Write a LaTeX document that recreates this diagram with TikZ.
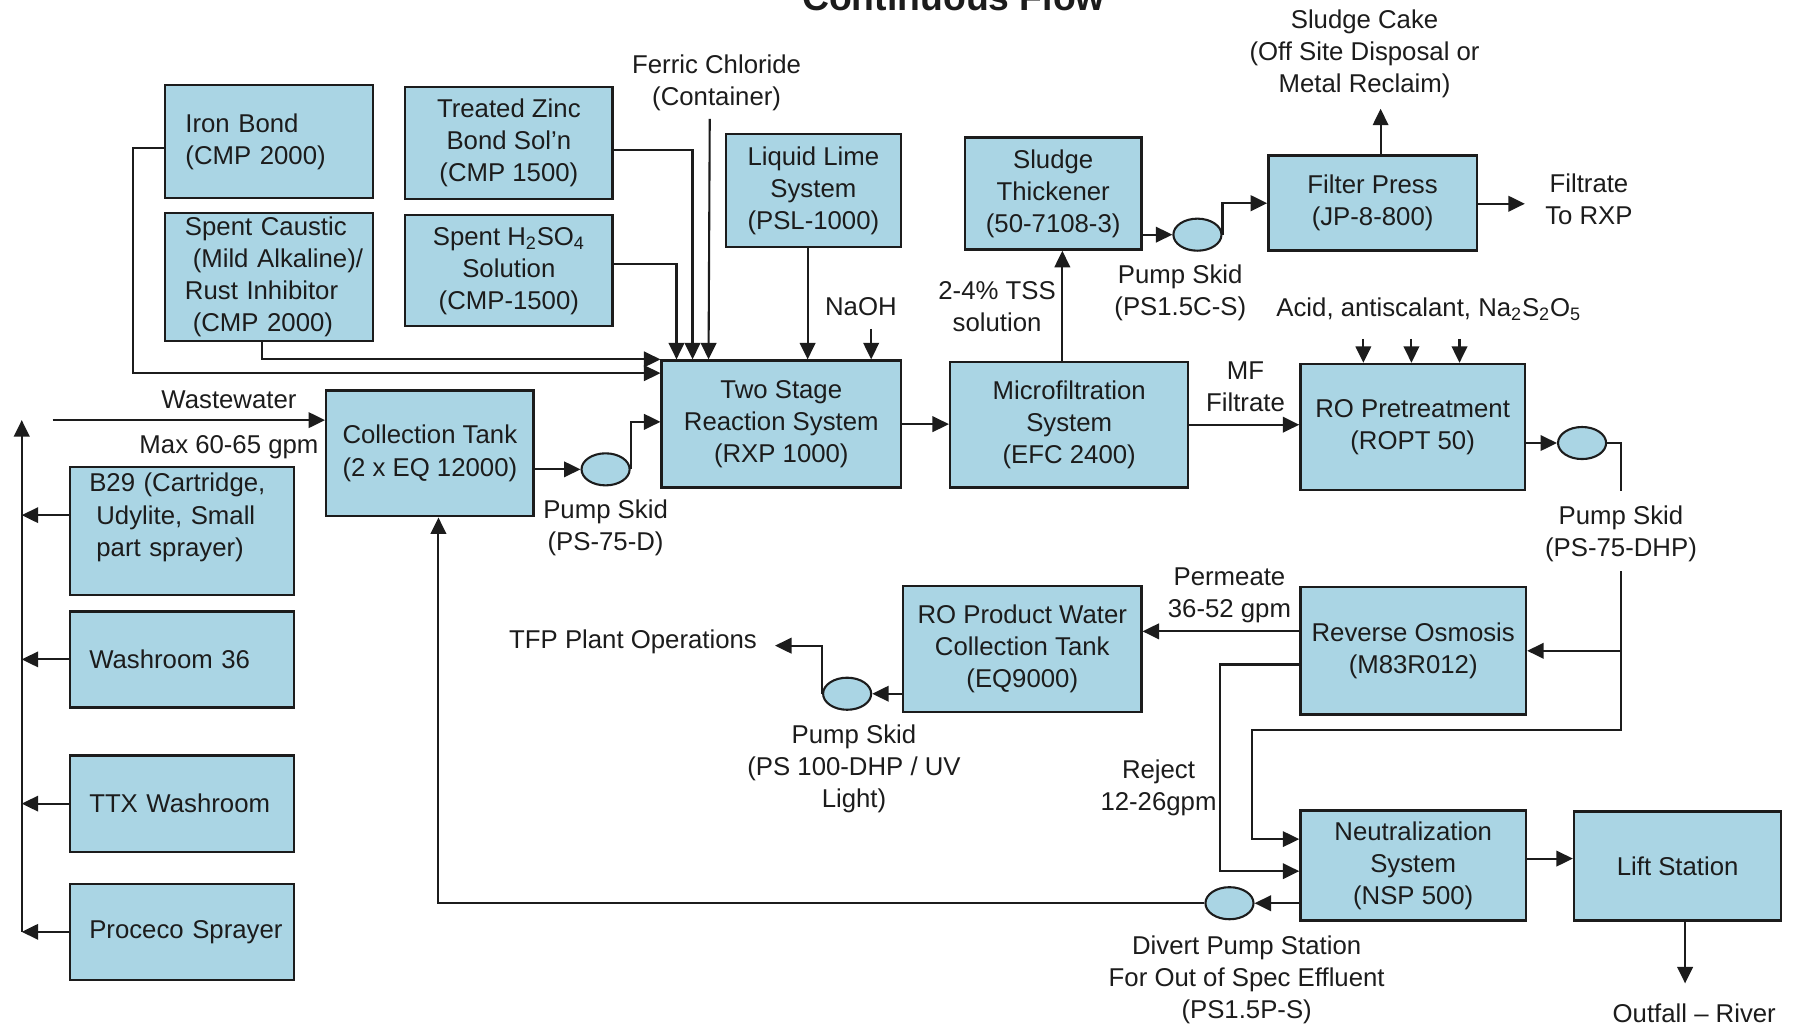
\documentclass[tikz,border=0pt]{standalone}
\usepackage{fontspec}
\setmainfont{Liberation Sans}
\usetikzlibrary{arrows.meta,calc,shapes.geometric}
\definecolor{boxfill}{RGB}{170,213,228}
\definecolor{ink}{RGB}{28,28,28}
\newcommand\mybox[6]{\node[box, minimum width={(#4-#2)*0.025cm}, minimum height={(#5-#3)*0.025cm}] (#1) at ({(#2+#4)/2},{(#3+#5)/2}) {#6};}
\newcommand\myboxl[7]{\node[box, align=left, text width=#6, minimum width={(#4-#2)*0.025cm}, minimum height={(#5-#3)*0.025cm}] (#1) at ({(#2+#4)/2},{(#3+#5)/2}) {#7};}
\begin{document}
\begin{tikzpicture}[x=0.025cm,y=-0.025cm,
  every node/.style={font=\fontsize{16}{19.9}\selectfont, text=ink},
  box/.style={draw=ink, fill=boxfill, line width=1.5pt, inner sep=0pt, align=center},
  pump/.style={ellipse, draw=ink, fill=boxfill, line width=1.3pt, minimum width=1.05cm, minimum height=0.7cm, inner sep=0pt},
  lbl/.style={align=center, inner sep=0pt},
  conn/.style={draw=ink, line width=1.3pt},
  flow/.style={conn, -{Triangle[length=0.36cm,width=0.34cm]}},
]
\fill[white] (0,0) rectangle (1568,899);
\useasboundingbox (0,0) rectangle (1568,899);

% title
\node[lbl, anchor=base, font=\fontsize{23.2}{28}\selectfont\bfseries] (title) at (833,9) {Continuous Flow};

% boxes
\myboxl{iron}{144}{74}{326}{173}{4.55cm}{\hspace*{0.45cm}Iron Bond\\\hspace*{0.45cm}(CMP 2000)}
\mybox{zinc}{354}{76}{535}{174}{Treated Zinc\\Bond Sol’n\\(CMP 1500)}
\myboxl{caustic}{144}{186}{326}{298}{4.55cm}{\hspace*{0.44cm}Spent Caustic\\\hspace*{0.61cm}(Mild Alkaline)/\\\hspace*{0.44cm}Rust Inhibitor\\\hspace*{0.61cm}(CMP 2000)}
\mybox{h2so4}{354}{188}{535}{285}{Spent H\textsubscript{2}SO\textsubscript{4}\\Solution\\(CMP-1500)}
\mybox{lime}{634}{117}{787}{216}{Liquid Lime\\System\\(PSL-1000)}
\mybox{rxp}{578}{315}{787}{426}{Two Stage\\Reaction System\\(RXP 1000)}
\mybox{thick}{843}{120}{997}{218}{Sludge\\Thickener\\(50-7108-3)}
\mybox{fpress}{1108}{136}{1290}{219}{Filter Press\\(JP-8-800)}
\mybox{mf}{830}{316}{1038}{426}{Microfiltration\\System\\(EFC 2400)}
\mybox{ropt}{1136}{318}{1332}{428}{RO Pretreatment\\(ROPT 50)}
\mybox{coll}{285}{341}{466}{451}{Collection Tank\\(2 x EQ 12000)}
\myboxl{b29}{61}{408}{257}{520}{4.9cm}{\hspace*{0.425cm}B29 (Cartridge,\\\hspace*{0.58cm}Udylite, Small\\\hspace*{0.58cm}part sprayer)\rule[-0.72cm]{0pt}{0pt}}
\myboxl{wash36}{61}{534}{257}{618}{4.9cm}{\hspace*{0.425cm}Washroom 36}
\myboxl{ttx}{61}{660}{257}{744}{4.9cm}{\hspace*{0.425cm}TTX Washroom}
\myboxl{proceco}{61}{772}{257}{856}{4.9cm}{\hspace*{0.425cm}Proceco Sprayer}
\mybox{roprod}{789}{512}{997}{622}{RO Product Water\\Collection Tank\\(EQ9000)}
\mybox{ro}{1136}{513}{1333}{624}{Reverse Osmosis\\(M83R012)}
\mybox{neut}{1136}{708}{1333}{804}{Neutralization\\System\\(NSP 500)}
\mybox{lift}{1375}{709}{1556}{804}{Lift Station}

% pumps
\node[pump] (p1) at (529,410) {};
\node[pump] (p2) at (1046,205) {};
\node[pump] (p3) at (1382,387) {};
\node[pump] (p4) at (740,606) {};
\node[pump] (p5) at (1074,789) {};

% labels
\node[lbl] (ferric) at (626,72) {Ferric Chloride\\(Container)};
\node[lbl] (cake) at (1192,47) {Sludge Cake\\(Off Site Disposal or\\Metal Reclaim)};
\node[lbl] (filtrate) at (1388,174) {Filtrate\\To RXP};
\node[lbl] (ps2lbl) at (1031,256) {Pump Skid\\(PS1.5C-S)};
\node[lbl] (acid) at (1248,270) {Acid, antiscalant, Na\textsubscript{2}S\textsubscript{2}O\textsubscript{5}};
\node[lbl] (tss) at (871,268) {2-4\% TSS\\solution};
\node[lbl] (mflbl) at (1088,338) {MF\\Filtrate};
\node[lbl] (naoh) at (752,268) {NaOH};
\node[lbl] (ww) at (200,349) {Wastewater};
\node[lbl] (maxlbl) at (200,391) {Max 60-65 gpm};
\node[lbl] (ps1lbl) at (529,461) {Pump Skid\\(PS-75-D)};
\node[lbl] (tfp) at (553,561) {TFP Plant Operations};
\node[lbl] (ps4lbl) at (746,672) {Pump Skid\\(PS 100-DHP / UV\\Light)};
\node[lbl] (ps3lbl) at (1416,466) {Pump Skid\\(PS-75-DHP)};
\node[lbl] (perm) at (1074,520) {Permeate\\36-52 gpm};
\node[lbl] (rej) at (1012,688) {Reject\\12-26gpm};
\node[lbl] (divert) at (1089,856) {Divert Pump Station\\For Out of Spec Effluent\\(PS1.5P-S)};
\node[lbl] (outfall) at (1480,885) {Outfall – River};

% free coordinates
\coordinate (wsrc) at (46,367);
\coordinate (retTop) at (19,367);
\coordinate (retBot) at (19,814);
\coordinate (cakeTip) at (1206,95);
\coordinate (filtTip) at (1332,178);
\coordinate (tfpTip) at (677,564);
\coordinate (outTip) at (1472,859);
\coordinate (c3a) at (1416,429);
\coordinate (c3b) at (1416,499);
\coordinate (c3c) at (1416,638);

% chemical feeds into reaction system
\draw[flow] ($(iron.west)+(0,6)$) -- ++(-27,0) |- ($(rxp.north west)+(0,12)$);
\draw[flow] ($(caustic.south)+(-6,0)$) |- (rxp.north west);
\draw[flow] ($(zinc.east)+(0,6)$) -| ($(rxp.north west)+(28,0)$);
\draw[flow] ($(h2so4.east)+(0,-6)$) -| ($(rxp.north west)+(14,0)$);
\draw[flow] ($(ferric.south)+(-6,7)$) -- ($(rxp.north west)+(42,0)$);
\coordinate (limeOut) at ($(lime.south)+(-5,0)$);
\draw[flow] (limeOut) -- (limeOut |- rxp.north);
\coordinate (naohOut) at ($(naoh.south)+(9,11)$);
\draw[flow] (naohOut) -- (naohOut |- rxp.north);

% main flow
\draw[flow] (wsrc) -- (wsrc -| coll.west);
\draw[flow] ($(coll.east)+(0,14)$) -- (p1.west);
\draw[flow] (p1.east) |- ($(rxp.west)+(0,-2)$);
\draw[flow] (rxp.east) -- (rxp.east -| mf.west);
\coordinate (mfUp) at ($(mf.north)+(-6,0)$);
\draw[flow] (mfUp) -- (mfUp |- thick.south);
\draw[flow] (p2.west -| thick.east) -- (p2.west);
\draw[flow] (p2.east) |- (fpress.west);
\draw[flow] (fpress.north -| cakeTip) -- (cakeTip);
\draw[flow] (fpress.east |- filtTip) -- (filtTip);
\draw[flow] (mf.east) -- (mf.east -| ropt.west);
\foreach \dx in {56,98,140}
  \draw[flow] ($(ropt.north west)+(\dx,-21)$) -- ($(ropt.north west)+(\dx,0)$);
\draw[flow] (p3.west -| ropt.east) -- (p3.west);
\draw[conn] (p3.east) -| (c3a);
\draw[flow] (c3b) -- (c3c) -| ($(neut.west)+(-41,-23)$) -- ($(neut.west)+(0,-23)$);
\draw[flow] (c3b |- ro.east) -- (ro.east);
\coordinate (roP) at ($(ro.west)+(0,-17)$);
\draw[flow] (roP) -- (roP -| roprod.east);
\coordinate (roR) at ($(ro.west)+(0,12)$);
\draw[flow] (roR) -| ($(neut.west)+(-69,5)$) -- ($(neut.west)+(0,5)$);
\draw[flow] (p5.east -| neut.west) -- (p5.east);
\draw[flow] (p5.west) -| ($(coll.south)+(7.5,0)$);
\coordinate (nl) at ($(neut.east)+(0,-6)$);
\draw[flow] (nl) -- (nl -| lift.west);
\draw[flow] (lift.south -| outTip) -- (outTip);
\draw[flow] (p4.east -| roprod.west) -- (p4.east);
\draw[flow] (p4.west) |- (tfpTip);

% return line on the left
\coordinate (b29out) at ($(b29.west)+(0,-14)$);
\draw[flow] (retBot) -- (retTop);
\draw[flow] (b29out) -- (b29out -| retTop);
\draw[flow] (wash36.west) -- (wash36.west -| retTop);
\draw[flow] (ttx.west) -- (ttx.west -| retTop);
\draw[flow] (proceco.west) -- (proceco.west -| retTop);
\end{tikzpicture}
\end{document}
